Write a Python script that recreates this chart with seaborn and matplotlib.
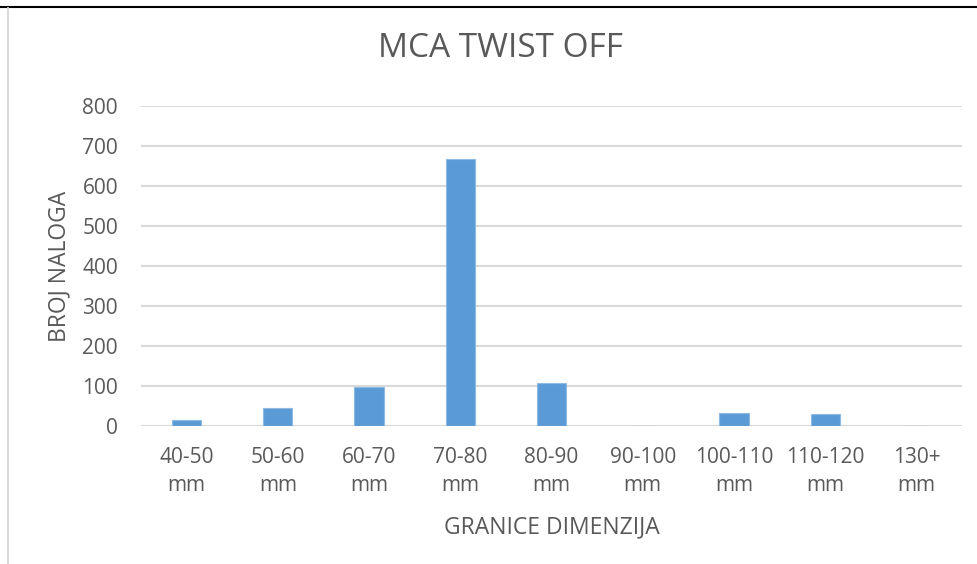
import matplotlib
matplotlib.use("Agg")
import matplotlib.pyplot as plt
import seaborn as sns
import pandas as pd

# data
categories = ['40-50\nmm', '50-60\nmm', '60-70\nmm', '70-80\nmm', '80-90\nmm',
              '90-100\nmm', '100-110\nmm', '110-120\nmm', '130+\nmm']
counts = [15, 44, 97, 667, 107, 0, 32, 31, 0]

df = pd.DataFrame({'granica': categories, 'broj': counts})

sns.set_theme(style='white')
plt.rcParams['font.family'] = ['Open Sans', 'DejaVu Sans']
txt = '#595959'
W, H = 977, 564

fig = plt.figure(figsize=(9.77, 5.64), dpi=100)
ax = fig.add_axes([141/W, 1-426/H, (962-141)/W, (426-106)/H])

sns.barplot(data=df, x='granica', y='broj', color='#5B9BD5', saturation=1,
            width=0.32, edgecolor='#8DB9E3', linewidth=0.8, ax=ax, zorder=3)

ax.set_ylim(0, 800)
ax.set_xlim(-0.5, len(categories) - 0.5)
ax.set_yticks(range(0, 801, 100))
ax.yaxis.grid(True, color='#D9D9D9', linewidth=1.5, zorder=0)
ax.xaxis.grid(False)
for s in ax.spines.values():
    s.set_visible(False)
ax.tick_params(axis='both', length=0, labelsize=15, colors=txt)
ax.tick_params(axis='x', pad=15)
ax.tick_params(axis='y', pad=16.5)
for lab in ax.get_xticklabels():
    lab.set_linespacing(1.45)

ax.set_xlabel('')
ax.set_ylabel('')
fig.text(552/W, 1-533/H, 'GRANICE DIMENZIJA', ha='center', va='baseline',
         fontsize=16.5, color=txt)
fig.text(59/W, 1-266/H, 'BROJ NALOGA', ha='center', va='center',
         rotation=90, fontsize=16.5, color=txt)
fig.text(500/W, 1-57/H, 'MCA TWIST OFF', ha='center', va='baseline',
         fontsize=24, color=txt)

# document frame around the chart
fig.add_artist(plt.Line2D([0, 1], [1-7/H, 1-7/H], color='black', linewidth=1.5))
fig.add_artist(plt.Line2D([8/W, 8/W], [0, 1-8/H], color='#D9D9D9', linewidth=1.5))

fig.savefig('out.png', dpi=100)
